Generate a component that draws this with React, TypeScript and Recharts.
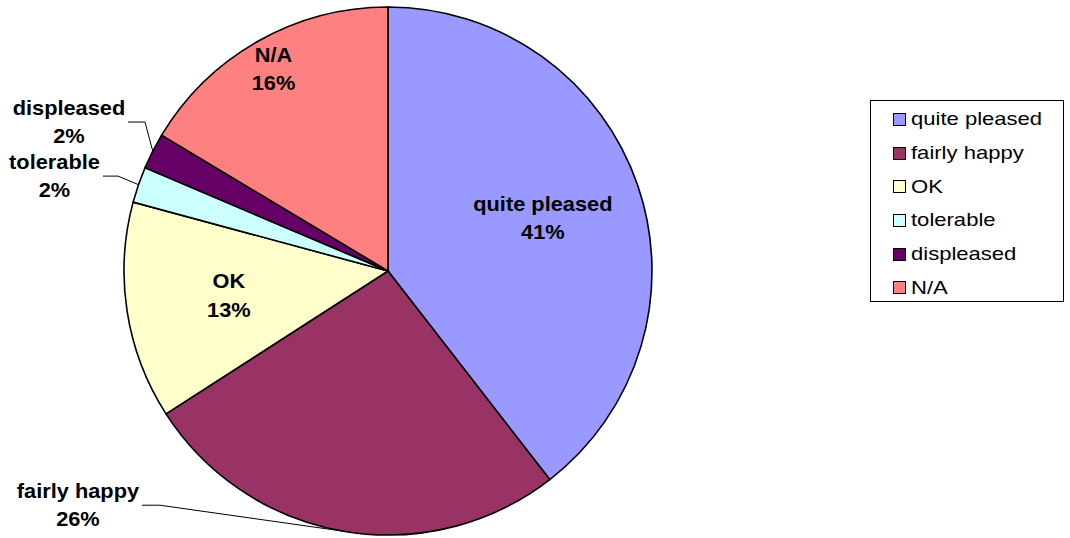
import React from 'react';
import { PieChart, Pie, Cell, Legend } from 'recharts';

const categories = ['quite pleased', 'fairly happy', 'OK', 'tolerable', 'displeased', 'N/A'];
const shares = [39.5, 26.4, 13.3, 2.2, 2.2, 16.4];
const percentLabels = ['41%', '26%', '13%', '2%', '2%', '16%'];
const colors = ['#9999FF', '#993366', '#FFFFCC', '#CCFFFF', '#660066', '#FF8080'];

const data = categories.map((name, i) => ({ name, value: shares[i], pct: percentLabels[i] }));

type Layout =
  | { kind: 'inside'; r: number }
  | { kind: 'outside'; text: [number, number]; elbow: [number, number]; start: number };

const labelLayout: Record<string, Layout> = {
  'quite pleased': { kind: 'inside', r: 0.62 },
  'fairly happy': { kind: 'outside', text: [-265.5, -26], elbow: [-183.5, -26], start: -201.5 },
  OK: { kind: 'inside', r: 0.61 },
  tolerable: { kind: 'outside', text: [-84, -8.6], elbow: [-20.5, -8.6], start: -35.5 },
  displeased: { kind: 'outside', text: [-83.8, -29.1], elbow: [-7.8, -29.1], start: -24.8 },
  'N/A': { kind: 'inside', r: 0.88 },
};

const FONT = '"Liberation Sans", Arial, sans-serif';
const RAD = Math.PI / 180;

const TwoLines = ({ x, y, a, b }: { x: number; y: number; a: string; b: string }) => {
  const y1 = y - 7.25;
  const y2 = y1 + 28.5;
  const style = { fontFamily: FONT, fontWeight: 700, fontSize: 20, fill: '#000' } as any;
  return (
    <g>
      <text transform={`translate(${x},${y1}) scale(1.09,1)`} textAnchor="middle" style={style}>
        {a}
      </text>
      <text transform={`translate(${x},${y2}) scale(1.09,1)`} textAnchor="middle" style={style}>
        {b}
      </text>
    </g>
  );
};

const renderLabel = (props: any) => {
  const { cx, cy, midAngle, outerRadius, index } = props;
  const name = categories[index];
  const lay = labelLayout[name];
  const cos = Math.cos(-midAngle * RAD);
  const sin = Math.sin(-midAngle * RAD);
  if (lay.kind === 'inside') {
    const x = cx + outerRadius * lay.r * cos;
    const y = cy + outerRadius * lay.r * sin;
    return <TwoLines key={name} x={x} y={y} a={name} b={percentLabels[index]} />;
  }
  const ax = cx + outerRadius * cos;
  const ay = cy + outerRadius * sin;
  const ex = ax + lay.elbow[0];
  const ey = ay + lay.elbow[1];
  const sx = ax + lay.start;
  return (
    <g key={name}>
      <polyline
        points={`${ax},${ay} ${ex},${ey} ${sx},${ey}`}
        fill="none"
        stroke="#000"
        strokeWidth={1}
      />
      <TwoLines x={ax + lay.text[0]} y={ay + lay.text[1]} a={name} b={percentLabels[index]} />
    </g>
  );
};

const renderLegend = () => (
  <div
    style={{
      boxSizing: 'border-box',
      width: 194,
      height: 202,
      border: '1px solid #000',
      background: '#fff',
      paddingTop: 1.5,
      paddingLeft: 22,
      fontFamily: FONT,
      fontSize: 19,
      color: '#000',
    }}
  >
    {categories.map((c, i) => (
      <div key={c} style={{ height: 33.7, display: 'flex', alignItems: 'center' }}>
        <span
          style={{
            display: 'inline-block',
            width: 11,
            height: 11,
            border: '1px solid #000',
            background: colors[i],
          }}
        />
        <span
          style={{
            display: 'inline-block',
            marginLeft: 5,
            transform: 'scale(1.16,1)',
            transformOrigin: 'left center',
            whiteSpace: 'nowrap',
            lineHeight: '20px',
          }}
        >
          {c}
        </span>
      </div>
    ))}
  </div>
);

export default function App() {
  return (
    <div style={{ position: 'absolute', left: 0, top: 0, width: 1070, height: 538, background: '#fff' }}>
      <PieChart width={1070} height={538} margin={{ top: 0, right: 0, bottom: 0, left: 0 }}>
        <Pie
          data={data}
          dataKey="value"
          nameKey="name"
          cx={388}
          cy={271}
          outerRadius={264}
          startAngle={90}
          endAngle={-270}
          stroke="#000"
          strokeWidth={1.6}
          label={renderLabel}
          labelLine={false}
          isAnimationActive={false}
        >
          {data.map((d, i) => (
            <Cell key={d.name} fill={colors[i]} />
          ))}
        </Pie>
        <Legend
          layout="vertical"
          align="right"
          verticalAlign="top"
          content={renderLegend}
          wrapperStyle={{ position: 'absolute', left: 870, top: 100, width: 194, height: 202 }}
        />
      </PieChart>
    </div>
  );
}
